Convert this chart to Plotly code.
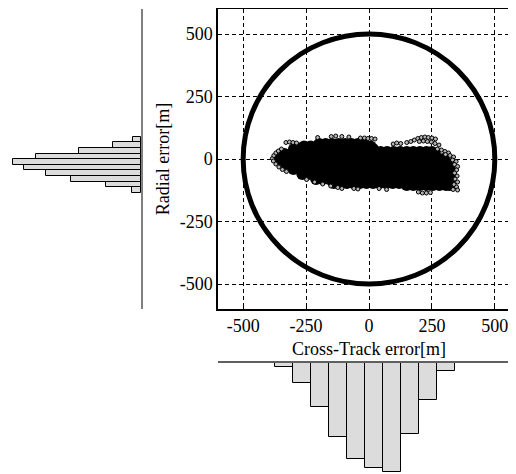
import plotly.graph_objects as go

# ---------------- data ----------------
TICKS = [-500, -250, 0, 250, 500]
TICK_LABELS = ["-500", "-250", "0", "250", "500"]
CIRCLE_RADIUS = 500

# dense core of the error cloud: one row of x values per y level
CORE_ROW_Y = [60, 50, 40, 28, 20, 0, -20, -40, -60, -80, -96, -104]
CORE_ROW_X = [
    [-198, -172, -147, -121, -95, -70, -44, -20],
    [-258, -232, -205, -180, -152, -126, -100, -75, -48, -22, 6],
    [-298, -272, -246, -220, -194, -168, -142, -116, -90, -64, -38, -12, 16],
    [20, 46, 72, 98, 124, 150, 176, 202, 228, 250],
    [-336, -310, -284, -258, -232, -206, -180, -154, -128, -102, -76, -50, -24, 2, 28, 54, 80, 106, 132, 158, 184, 210, 236, 262],
    [-356, -330, -304, -278, -252, -226, -200, -174, -148, -122, -96, -70, -44, -18, 8, 34, 60, 86, 112, 138, 164, 190, 216, 242, 268, 296],
    [-330, -304, -278, -252, -226, -200, -174, -148, -122, -96, -70, -44, -18, 8, 34, 60, 86, 112, 138, 164, 190, 216, 242, 268, 294, 318],
    [-300, -274, -248, -222, -196, -170, -144, -118, -92, -66, -40, -14, 12, 38, 64, 90, 116, 142, 168, 194, 220, 246, 272, 298, 320],
    [-265, -239, -213, -187, -161, -135, -109, -83, -57, -31, -5, 21, 47, 73, 99, 125, 151, 177, 203, 229, 255, 281, 307, 322],
    [-210, -184, -158, -132, -106, -80, -54, -28, -2, 24, 50, 76, 102, 128, 154, 180, 206, 232, 258, 284, 310, 322],
    [-140, -114, -88, -62, -36, -10, 16, 42, 68, 94, 120, 146, 172, 198, 224, 250, 276, 302, 320],
    [150, 176, 202, 228, 254, 280, 306, 320],
]

# sparse points on the rim of the cloud
EDGE_X = [-330, -316, -302, -288,
          -384, -378, -370, -360, -348,
          -380, -370, -358, -344, -328,
          -248, -216, -184, -152,
          -124, -108, -60, -44, 40, 70,
          -204, -150, -132, -108, -80, -34, -18, -4, 10, 24,
          96, 110, 126, 150, 166, 180, 194, 208, 222, 236, 250, 264, 200, 216, 232, 248, 262, 278,
          272, 288, 302, 316, 304, 322, 336, 332, 346, 340, 352,
          348, 340, 350, 342, 352, 338, 348, 334, 352,
          196, 212, 228, 244]
EDGE_Y = [66, 68, 66, 64,
          2, 14, 24, 32, 40,
          -8, -20, -32, -42, -50,
          -82, -92, -100, -108,
          -114, -118, -118, -120, -118, -122,
          86, 90, 92, 90, 88, 84, 84, 82, 82, 80,
          60, 64, 62, 66, 70, 76, 82, 86, 88, 86, 84, 80, 70, 72, 70, 68, 62, 56,
          40, 36, 30, 24, 18, 14, 8, -4, -10, -22, -30,
          -44, -56, -68, -80, -92, -102, -112, -122, -124,
          -132, -136, -136, -134]

# histogram of radial error (left panel)
RAD_BIN_CENTERS = [77.8, 55.4, 33.0, 10.6, -11.8, -34.2, -56.6, -79.0, -101.4, -123.8]
RAD_BIN_WIDTH = 22.4
RAD_COUNTS = [18, 62, 138, 234, 285, 260, 212, 156, 78, 20]

# histogram of cross-track error (bottom panel)
CT_BIN_CENTERS = [-337.3, -265.9, -194.5, -123.1, -51.7, 19.7, 91.1, 162.5, 233.9, 305.3]
CT_BIN_WIDTH = 71.4
CT_COUNTS = [15, 74, 161, 272, 353, 386, 400, 261, 136, 28]

# ---------------- figure ----------------
W, H = 516, 474
FONT = "Liberation Serif"

core_x, core_y = [], []
for yv, xs in zip(CORE_ROW_Y, CORE_ROW_X):
    core_x += xs
    core_y += [yv] * len(xs)

fig = go.Figure()

fig.add_trace(go.Scatter(
    x=core_x, y=core_y, mode="markers", xaxis="x", yaxis="y",
    marker=dict(size=12, color="black", line=dict(width=0)),
    showlegend=False, hoverinfo="skip"))

fig.add_trace(go.Scatter(
    x=EDGE_X, y=EDGE_Y, mode="markers", xaxis="x", yaxis="y",
    marker=dict(size=4, color="#b4b4b4", line=dict(width=1, color="black")),
    showlegend=False))

fig.add_trace(go.Bar(
    y=RAD_BIN_CENTERS, x=RAD_COUNTS, orientation="h", width=RAD_BIN_WIDTH,
    xaxis="x2", yaxis="y3",
    marker=dict(color="#dcdcdc", line=dict(color="black", width=1)),
    showlegend=False))

fig.add_trace(go.Bar(
    x=CT_BIN_CENTERS, y=CT_COUNTS, width=CT_BIN_WIDTH,
    xaxis="x3", yaxis="y2",
    marker=dict(color="#dcdcdc", line=dict(color="black", width=1)),
    showlegend=False))

# the page body adds an 8px offset; positions below are in figure pixels
main_x_dom = [210 / W, 512 / W]
main_y_dom = [1 - 301 / H, 1 - 1 / H]
x_range = [-600, 600]
y_range = [-600, 600]

axis_common = dict(
    tickvals=TICKS, ticktext=TICK_LABELS,
    showgrid=True, gridcolor="black", gridwidth=1, griddash="4px,3px",
    zeroline=False, showline=True, linecolor="black", linewidth=1.5,
    ticks="inside", ticklen=4, tickcolor="black",
    tickfont=dict(family=FONT, size=18, color="black"),
)

fig.update_layout(
    width=W, height=H,
    margin=dict(l=0, r=0, t=0, b=0),
    paper_bgcolor="white", plot_bgcolor="white",
    bargap=0,
    font=dict(family=FONT, size=18, color="black"),
    xaxis=dict(domain=main_x_dom, range=x_range, anchor="y", mirror=True,
               title=dict(text="Cross-Track error[m]", standoff=7,
                          font=dict(family=FONT, size=18, color="black")),
               **axis_common),
    yaxis=dict(domain=main_y_dom, range=y_range, anchor="x", mirror=False,
               title=dict(text="Radial error[m]", standoff=5,
                          font=dict(family=FONT, size=18, color="black")),
               **axis_common),
    # left histogram axes
    xaxis2=dict(domain=[0, 133 / W], range=[296, 0], anchor="y3",
                visible=False, fixedrange=True),
    yaxis3=dict(domain=main_y_dom, range=y_range, anchor="x2", side="right",
                showline=True, linecolor="#808080", linewidth=2,
                showgrid=False, zeroline=False, ticks="", showticklabels=False),
    # bottom histogram axes
    xaxis3=dict(domain=main_x_dom, range=x_range, anchor="y2", side="top",
                showline=True, linecolor="#606060", linewidth=1.5,
                showgrid=False, zeroline=False, ticks="", showticklabels=False),
    yaxis2=dict(domain=[0, 1 - 355 / H], range=[438, 0], anchor="x3",
                visible=False),
    shapes=[dict(type="circle", xref="x", yref="y",
                 x0=-CIRCLE_RADIUS, y0=-CIRCLE_RADIUS,
                 x1=CIRCLE_RADIUS, y1=CIRCLE_RADIUS,
                 line=dict(color="black", width=5), layer="below")],
)

fig.write_html("out.html")
